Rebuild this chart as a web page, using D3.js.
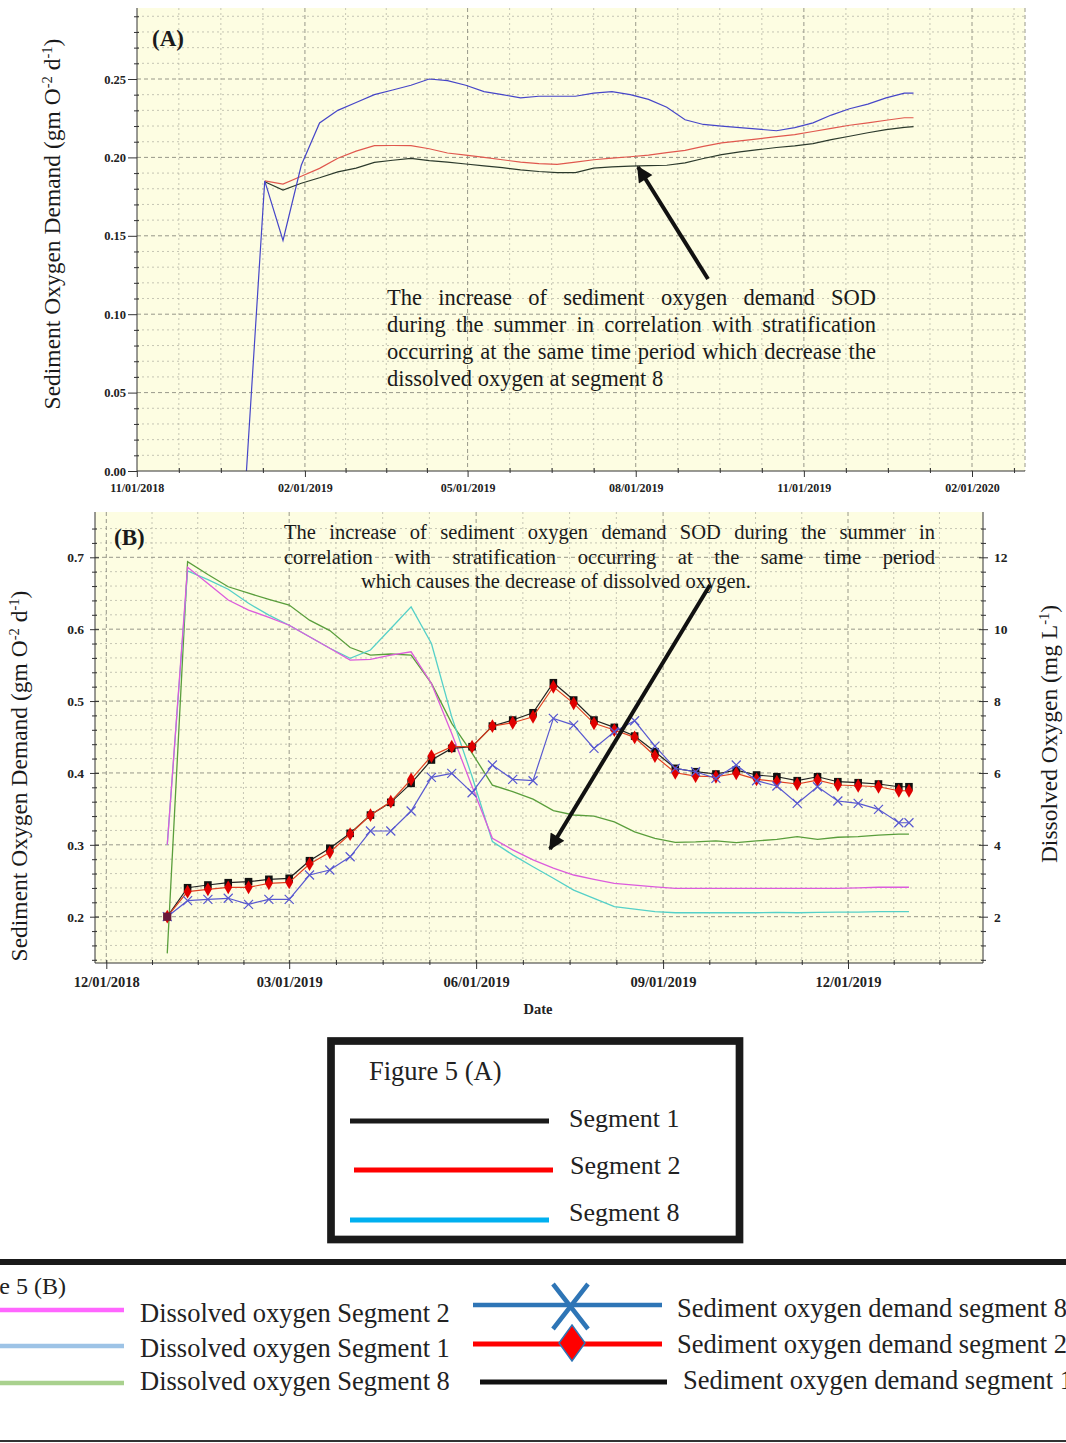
<!DOCTYPE html>
<html><head><meta charset="utf-8">
<script src="https://cdn.jsdelivr.net/npm/d3@7"></script>
<style>
body{margin:0;background:#fff;}
svg{display:block;}
text{font-family:"Liberation Serif","Times New Roman",serif;}
</style>
</head><body>
<svg id="c" width="1066" height="1443"></svg>
<script>
// ---------- DATA ----------
const dates = ["2018-12-31","2019-01-10","2019-01-20","2019-01-30","2019-02-09","2019-02-19","2019-03-01","2019-03-11","2019-03-21","2019-03-31","2019-04-10","2019-04-20","2019-04-30","2019-05-10","2019-05-20","2019-05-30","2019-06-09","2019-06-19","2019-06-29","2019-07-09","2019-07-19","2019-07-29","2019-08-08","2019-08-18","2019-08-28","2019-09-07","2019-09-17","2019-09-27","2019-10-07","2019-10-17","2019-10-27","2019-11-06","2019-11-16","2019-11-26","2019-12-06","2019-12-16","2019-12-26","2019-12-31"];

// Panel A: sediment oxygen demand (gm O-2 d-1)
const sodA_seg8 = [0, 0.185, 0.147, 0.195, 0.222, 0.230, 0.235, 0.240, 0.243, 0.246, 0.250, 0.249, 0.246, 0.242, 0.240, 0.238, 0.239, 0.239, 0.239, 0.241, 0.242, 0.240, 0.237, 0.232, 0.224, 0.221, 0.220, 0.219, 0.218, 0.217, 0.219, 0.222, 0.227, 0.231, 0.234, 0.238, 0.241, 0.241];
const sodA_seg2 = [null, 0.185, 0.183, 0.188, 0.193, 0.1995, 0.204, 0.2075, 0.2076, 0.2075, 0.2055, 0.2028, 0.2015, 0.200, 0.1985, 0.197, 0.196, 0.1956, 0.197, 0.1985, 0.1995, 0.2004, 0.2015, 0.203, 0.2045, 0.207, 0.2093, 0.2105, 0.2118, 0.2132, 0.2145, 0.2165, 0.2185, 0.2205, 0.222, 0.2237, 0.2253, 0.2253];
const sodA_seg1 = [null, 0.1845, 0.1792, 0.1835, 0.187, 0.1908, 0.1932, 0.1968, 0.1982, 0.1994, 0.198, 0.197, 0.1958, 0.1946, 0.1935, 0.192, 0.191, 0.1903, 0.1903, 0.1932, 0.194, 0.1944, 0.1947, 0.195, 0.1965, 0.1993, 0.2018, 0.2035, 0.2049, 0.2063, 0.2074, 0.2088, 0.2113, 0.2135, 0.2157, 0.2177, 0.2192, 0.2196];

// Panel B: sediment oxygen demand (left axis)
const sodB_seg1 = [0.200, 0.2403, 0.2441, 0.2473, 0.2487, 0.2520, 0.2534, 0.2779, 0.2951, 0.3160, 0.3414, 0.3591, 0.3855, 0.4180, 0.4342, 0.4365, 0.4652, 0.4736, 0.4837, 0.5255, 0.5014, 0.4736, 0.4634, 0.4513, 0.4295, 0.4064, 0.4017, 0.3985, 0.4040, 0.3971, 0.3947, 0.3892, 0.3947, 0.3878, 0.3864, 0.3846, 0.3808, 0.3808];
const sodB_seg2 = [0.200, 0.2348, 0.2381, 0.2409, 0.2409, 0.2464, 0.2478, 0.2733, 0.2896, 0.3150, 0.3414, 0.3600, 0.3911, 0.4235, 0.4365, 0.4365, 0.4652, 0.4698, 0.4782, 0.5199, 0.4968, 0.4690, 0.4597, 0.4495, 0.4235, 0.4003, 0.3957, 0.3947, 0.3994, 0.3911, 0.3878, 0.3846, 0.3901, 0.3832, 0.3822, 0.3808, 0.3752, 0.3752];
const sodB_seg8 = [0.200, 0.2223, 0.2242, 0.2256, 0.2172, 0.2242, 0.2242, 0.2580, 0.2650, 0.2834, 0.3192, 0.3192, 0.3470, 0.3939, 0.3994, 0.3725, 0.4110, 0.3911, 0.3892, 0.4759, 0.4666, 0.4342, 0.4573, 0.4726, 0.4374, 0.4064, 0.4017, 0.3925, 0.4110, 0.3892, 0.3818, 0.3577, 0.3808, 0.3609, 0.3577, 0.3494, 0.3307, 0.3307];
// Panel B: dissolved oxygen (right axis, mg L-1)
const doB_seg2 = [4.0, 11.72, 11.27, 10.81, 10.53, 10.33, 10.11, 9.79, 9.47, 9.14, 9.16, 9.28, 9.37, 8.49, 7.10, 5.62, 4.18, 3.86, 3.58, 3.35, 3.16, 3.04, 2.93, 2.88, 2.83, 2.79, 2.79, 2.79, 2.79, 2.79, 2.79, 2.79, 2.79, 2.79, 2.80, 2.82, 2.82, 2.82];
const doB_seg1 = [4.0, 11.62, 11.38, 11.11, 10.72, 10.39, 10.11, 9.79, 9.47, 9.19, 9.42, 10.02, 10.62, 9.60, 7.56, 5.90, 4.09, 3.72, 3.39, 3.07, 2.74, 2.51, 2.28, 2.21, 2.14, 2.11, 2.11, 2.11, 2.11, 2.11, 2.12, 2.11, 2.12, 2.13, 2.13, 2.14, 2.14, 2.14];
const doB_seg8 = [0.98, 11.88, 11.52, 11.18, 11.0, 10.83, 10.67, 10.25, 9.96, 9.49, 9.28, 9.31, 9.28, 8.49, 7.38, 6.55, 5.66, 5.48, 5.27, 4.95, 4.83, 4.80, 4.64, 4.36, 4.18, 4.07, 4.08, 4.11, 4.06, 4.11, 4.15, 4.23, 4.15, 4.21, 4.23, 4.27, 4.30, 4.30];

// Tick labels
const ticksA_x = ["2018-11-01","2019-02-01","2019-05-01","2019-08-01","2019-11-01","2020-02-01"];
const ticksA_y = [0, 0.05, 0.10, 0.15, 0.20, 0.25];
const ticksB_x = ["2018-12-01","2019-03-01","2019-06-01","2019-09-01","2019-12-01"];
const ticksB_yL = [0.2, 0.3, 0.4, 0.5, 0.6, 0.7];
const ticksB_yR = [2, 4, 6, 8, 10, 12];

const noteA = ["The increase of sediment oxygen demand SOD","during the summer in correlation with stratification","occurring at the same time period which decrease the","dissolved oxygen at segment 8"];
const noteB = ["The increase of sediment oxygen demand SOD during the summer in","correlation with stratification occurring at the same time period","which causes the decrease of dissolved oxygen."];

const legendA = ["Segment 1","Segment 2","Segment 8"];
const legendB_left = ["Dissolved oxygen Segment 2","Dissolved oxygen Segment 1","Dissolved oxygen Segment 8"];
const legendB_right = ["Sediment oxygen demand segment 8","Sediment oxygen demand segment 2","Sediment oxygen demand segment 1"];

// ---------- DRAWING ----------
const svg = d3.select("#c");
const parse = d3.timeParse("%Y-%m-%d");
const D = dates.map(parse);
const fmtDate = d3.timeFormat("%m/%d/%Y");
const BG = "#fdfde2";

const defs = svg.append("defs");
defs.append("marker").attr("id","ah").attr("viewBox","0 0 10 10").attr("refX",9).attr("refY",5)
  .attr("markerWidth",20).attr("markerHeight",16).attr("markerUnits","userSpaceOnUse").attr("orient","auto")
  .append("path").attr("d","M0,0L10,5L0,10z").attr("fill","#111");
defs.append("clipPath").attr("id","clipA").append("rect").attr("x",137).attr("y",8).attr("width",888).attr("height",463);
defs.append("clipPath").attr("id","clipB").append("rect").attr("x",95).attr("y",512).attr("width",888).attr("height",451);

function minorsBetween(majors, after) {
  const out = [];
  for (let i = 0; i < majors.length - 1; i++) {
    const a = +majors[i], b = +majors[i+1];
    for (let k = 1; k < 4; k++) out.push(new Date(a + (b - a) * k / 4));
  }
  const last = +majors[majors.length-1], step = (+majors[1] - +majors[0]) / 4;
  for (let k = 1; k <= after; k++) out.push(new Date(last + step * k));
  return out;
}

function drawGrid(g, x, y, box, majX, minX, majY, minY) {
  const gg = g.append("g");
  gg.selectAll(".hmin").data(minY).join("line")
    .attr("x1", box.l).attr("x2", box.r).attr("y1", d => y(d)).attr("y2", d => y(d))
    .attr("stroke", "#b8b8a8").attr("stroke-width", 0.8).attr("stroke-dasharray", "2,3");
  gg.selectAll(".vmin").data(minX).join("line")
    .attr("y1", box.t).attr("y2", box.b).attr("x1", d => x(d)).attr("x2", d => x(d))
    .attr("stroke", "#b8b8a8").attr("stroke-width", 0.8).attr("stroke-dasharray", "2,3");
  gg.selectAll(".hmaj").data(majY).join("line")
    .attr("x1", box.l).attr("x2", box.r).attr("y1", d => y(d)).attr("y2", d => y(d))
    .attr("stroke", "#8c8c80").attr("stroke-width", 0.9).attr("stroke-dasharray", "4,3");
  gg.selectAll(".vmaj").data(majX).join("line")
    .attr("y1", box.t).attr("y2", box.b).attr("x1", d => x(d)).attr("x2", d => x(d))
    .attr("stroke", "#8c8c80").attr("stroke-width", 0.9).attr("stroke-dasharray", "4,3");
}

function styleAxis(sel, size) {
  sel.select(".domain").remove();
  sel.selectAll("line").attr("stroke", "#333");
  sel.selectAll("text").attr("font-family", "Liberation Serif, serif").attr("font-weight", "bold")
    .attr("font-size", size).attr("fill", "#222");
}

function justify(g, str, x0, x1, y, size) {
  const words = str.split(" ");
  const t = g.append("text").attr("y", y).attr("font-size", size).attr("fill", "#1a1a1a");
  const spans = words.map(w => t.append("tspan").text(w));
  const widths = spans.map(s => s.node().getComputedTextLength());
  const gap = (x1 - x0 - d3.sum(widths)) / (words.length - 1);
  let xx = x0;
  spans.forEach((s, i) => { s.attr("x", xx); xx += widths[i] + gap; });
}

function rotTitle(g, cx, cy, parts, size) {
  const t = g.append("text").attr("transform", `translate(${cx},${cy}) rotate(-90)`)
    .attr("text-anchor", "middle").attr("font-size", size).attr("fill", "#1a1a1a");
  parts.forEach(p => {
    const s = t.append("tspan").text(p[0]);
    if (p[1] === "sup") s.attr("dy", -8).attr("font-size", size * 0.62);
    if (p[1] === "down") s.attr("dy", 8);
  });
}

// ===== Panel A =====
{
  const box = {l: 137, r: 1025, t: 8, b: 471};
  const x = d3.scaleTime().domain([parse("2018-11-01"), parse("2020-02-01")]).range([136.8, 972]);
  const y = d3.scaleLinear().domain([0, 0.25]).range([471, 79]);
  const g = svg.append("g");
  g.append("rect").attr("x", box.l).attr("y", box.t).attr("width", box.r - box.l).attr("height", box.b - box.t).attr("fill", BG);
  const majX = ticksA_x.map(parse);
  const minX = minorsBetween(majX, 1);
  const majY = ticksA_y;
  const minY = d3.range(1, 30).map(i => i / 100).filter(v => Math.round(v * 100) % 5 !== 0);
  drawGrid(g, x, y, box, majX.slice(1), minX, majY.slice(1), minY);
  g.append("line").attr("x1", 1025).attr("x2", 1025).attr("y1", box.t).attr("y2", box.b)
    .attr("stroke", "#8c8c80").attr("stroke-width", 0.9).attr("stroke-dasharray", "4,3");

  const lines = g.append("g").attr("clip-path", "url(#clipA)");
  const series = [[sodA_seg1, "#2c3a2c"], [sodA_seg2, "#e0584e"], [sodA_seg8, "#4646c8"]];
  series.forEach(([vals, col]) => {
    const line = d3.line().defined(d => d[1] != null).x(d => x(d[0])).y(d => y(d[1]));
    lines.append("path").attr("d", line(D.map((d, i) => [d, vals[i]])))
      .attr("fill", "none").attr("stroke", col).attr("stroke-width", 1.2);
  });

  // axes
  g.append("line").attr("x1", box.l).attr("x2", box.l).attr("y1", box.t).attr("y2", box.b).attr("stroke", "#333");
  g.append("line").attr("x1", box.l).attr("x2", box.r).attr("y1", box.b).attr("y2", box.b).attr("stroke", "#333");
  const ay = g.append("g").attr("transform", `translate(${box.l},0)`)
    .call(d3.axisLeft(y).tickValues(majY).tickFormat(d3.format(".2f")).tickSize(9).tickPadding(2));
  styleAxis(ay, 12.5);
  const ay2 = g.append("g").attr("transform", `translate(${box.l + 2},0)`)
    .call(d3.axisLeft(y).tickValues(minY).tickFormat("").tickSize(5));
  styleAxis(ay2, 12);
  const ax = g.append("g").attr("transform", `translate(0,${box.b})`)
    .call(d3.axisBottom(x).tickValues(majX).tickFormat(fmtDate).tickSize(6).tickPadding(6));
  styleAxis(ax, 12);
  const ax2 = g.append("g").attr("transform", `translate(0,${box.b + 2})`)
    .call(d3.axisTop(x).tickValues(minX.filter(d => x(d) < box.r)).tickFormat("").tickSize(5));
  styleAxis(ax2, 12);

  g.append("text").attr("x", 152).attr("y", 46).attr("font-size", 23).attr("font-weight", "bold").attr("fill", "#1a1a1a").text("(A)");
  rotTitle(g, 60, 224, [["Sediment Oxygen Demand (gm O"], ["-2", "sup"], [" d", "down"], ["-1", "sup"], [")", "down"]], 23.5);

  const nb = g.append("g");
  justify(nb, noteA[0], 387, 876, 305, 22.5);
  justify(nb, noteA[1], 387, 876, 332, 22.5);
  justify(nb, noteA[2], 387, 876, 359, 22.5);
  nb.append("text").attr("x", 387).attr("y", 386).attr("font-size", 22.5).attr("fill", "#1a1a1a").text(noteA[3]);
  g.append("line").attr("x1", 708).attr("y1", 279).attr("x2", 638).attr("y2", 167)
    .attr("stroke", "#111").attr("stroke-width", 4).attr("marker-end", "url(#ah)");
}

// ===== Panel B =====
{
  const box = {l: 95, r: 983, t: 512, b: 963};
  const x = d3.scaleTime().domain([parse("2018-12-01"), parse("2019-12-01")]).range([106.3, 848]);
  const yL = d3.scaleLinear().domain([0.2, 0.7]).range([916.7, 557.3]);
  const yR = d3.scaleLinear().domain([2, 12]).range([916.7, 557.3]);
  const g = svg.append("g");
  g.append("rect").attr("x", box.l).attr("y", box.t).attr("width", box.r - box.l).attr("height", box.b - box.t).attr("fill", BG);
  const majX = ticksB_x.map(parse);
  const minX = minorsBetween(majX, 2);
  const majY = ticksB_yL;
  const minY = d3.range(7, 38).map(i => i / 50).filter(v => Math.round(v * 50) % 5 !== 0);
  drawGrid(g, x, yL, box, majX, minX, majY, minY);

  const lines = g.append("g").attr("clip-path", "url(#clipB)");
  const doSeries = [[doB_seg8, "#5a9e3c"], [doB_seg1, "#55d0c8"], [doB_seg2, "#dc5cdc"]];
  doSeries.forEach(([vals, col]) => {
    const line = d3.line().x(d => x(d[0])).y(d => yR(d[1]));
    lines.append("path").attr("d", line(D.map((d, i) => [d, vals[i]])))
      .attr("fill", "none").attr("stroke", col).attr("stroke-width", 1.3);
  });
  const sodLine = d3.line().x(d => x(d[0])).y(d => yL(d[1]));
  const pts = vals => D.map((d, i) => [d, vals[i]]);
  // segment 1 (black squares)
  lines.append("path").attr("d", sodLine(pts(sodB_seg1))).attr("fill", "none").attr("stroke", "#222").attr("stroke-width", 1.2);
  lines.selectAll(".sq").data(pts(sodB_seg1)).join("rect")
    .attr("x", d => x(d[0]) - 3.8).attr("y", d => yL(d[1]) - 3.8).attr("width", 7.6).attr("height", 7.6).attr("fill", "#111");
  // segment 2 (red diamonds)
  lines.append("path").attr("d", sodLine(pts(sodB_seg2))).attr("fill", "none").attr("stroke", "#e04020").attr("stroke-width", 1.2);
  lines.selectAll(".dm").data(pts(sodB_seg2)).join("path")
    .attr("transform", d => `translate(${x(d[0])},${yL(d[1])})`)
    .attr("d", d3.symbol(d3.symbolDiamond).size(55)).attr("fill", "#e00000");
  // segment 8 (blue crosses)
  lines.append("path").attr("d", sodLine(pts(sodB_seg8))).attr("fill", "none").attr("stroke", "#5858d0").attr("stroke-width", 1.2);
  lines.selectAll(".xx").data(pts(sodB_seg8)).join("path")
    .attr("transform", d => `translate(${x(d[0])},${yL(d[1])})`)
    .attr("d", "M-4.5,-4.5L4.5,4.5M-4.5,4.5L4.5,-4.5").attr("stroke", "#5858d0").attr("stroke-width", 1.2).attr("fill", "none");
  // first point overlap colour
  lines.append("rect").attr("x", x(D[0]) - 4).attr("y", yL(sodB_seg1[0]) - 4).attr("width", 8).attr("height", 8).attr("fill", "#6a1a3a");

  // axes
  g.append("line").attr("x1", box.l).attr("x2", box.l).attr("y1", box.t).attr("y2", box.b).attr("stroke", "#333");
  g.append("line").attr("x1", box.r).attr("x2", box.r).attr("y1", box.t).attr("y2", box.b).attr("stroke", "#333");
  g.append("line").attr("x1", box.l).attr("x2", box.r).attr("y1", box.b).attr("y2", box.b).attr("stroke", "#333");
  const ayl = g.append("g").attr("transform", `translate(${box.l + 4},0)`)
    .call(d3.axisLeft(yL).tickValues(majY).tickFormat(d3.format(".1f")).tickSize(9).tickPadding(6));
  styleAxis(ayl, 13.5);
  const ayl2 = g.append("g").attr("transform", `translate(${box.l + 2},0)`)
    .call(d3.axisLeft(yL).tickValues(minY).tickFormat("").tickSize(5));
  styleAxis(ayl2, 12);
  const ayr = g.append("g").attr("transform", `translate(${box.r - 4},0)`)
    .call(d3.axisRight(yR).tickValues(ticksB_yR).tickFormat(d3.format("d")).tickSize(9).tickPadding(6));
  styleAxis(ayr, 13.5);
  const ayr2 = g.append("g").attr("transform", `translate(${box.r - 2},0)`)
    .call(d3.axisRight(yR).tickValues(minY.map(v => (v - 0.1) * 20)).tickFormat("").tickSize(5));
  styleAxis(ayr2, 12);
  const ax = g.append("g").attr("transform", `translate(0,${box.b - 3})`)
    .call(d3.axisBottom(x).tickValues(majX).tickFormat(fmtDate).tickSize(9).tickPadding(8));
  styleAxis(ax, 14.5);
  const ax2 = g.append("g").attr("transform", `translate(0,${box.b + 2})`)
    .call(d3.axisTop(x).tickValues(minX.filter(d => x(d) < box.r)).tickFormat("").tickSize(5));
  styleAxis(ax2, 12);

  g.append("text").attr("x", 538).attr("y", 1014).attr("text-anchor", "middle").attr("font-size", 14.5)
    .attr("font-weight", "bold").attr("fill", "#222").text("Date");
  g.append("text").attr("x", 114).attr("y", 545).attr("font-size", 23).attr("font-weight", "bold").attr("fill", "#1a1a1a").text("(B)");
  rotTitle(g, 27, 776, [["Sediment Oxygen Demand (gm O"], ["-2", "sup"], [" d", "down"], ["-1", "sup"], [")", "down"]], 23.5);
  rotTitle(g, 1057, 734, [["Dissolved Oxygen (mg L"], ["-1", "sup"], [")", "down"]], 23.5);

  const nb = g.append("g");
  justify(nb, noteB[0], 284, 935, 539, 20.5);
  justify(nb, noteB[1], 284, 935, 564, 20.5);
  nb.append("text").attr("x", 361).attr("y", 588).attr("font-size", 20.5).attr("fill", "#1a1a1a").text(noteB[2]);
  g.append("line").attr("x1", 710).attr("y1", 585).attr("x2", 550).attr("y2", 849)
    .attr("stroke", "#111").attr("stroke-width", 4).attr("marker-end", "url(#ah)");
}

// ===== Legend A =====
{
  const g = svg.append("g");
  g.append("rect").attr("x", 331).attr("y", 1041).attr("width", 408.5).attr("height", 198.5)
    .attr("fill", "#fff").attr("stroke", "#1a1a1a").attr("stroke-width", 7.7);
  g.append("text").attr("x", 369).attr("y", 1080).attr("font-size", 26.5).attr("fill", "#222").text("Figure 5 (A)");
  const cols = ["#1a1a1a", "#ff0000", "#00b0f0"];
  const ly = [1121, 1170, 1220];
  const lx = [[350, 549], [354, 553], [350, 549]];
  const tx = [569, 570, 569];
  const ty = [1127, 1174, 1221];
  legendA.forEach((s, i) => {
    g.append("line").attr("x1", lx[i][0]).attr("x2", lx[i][1]).attr("y1", ly[i]).attr("y2", ly[i])
      .attr("stroke", cols[i]).attr("stroke-width", 5);
    g.append("text").attr("x", tx[i]).attr("y", ty[i]).attr("font-size", 26).attr("fill", "#222").text(s);
  });
}

// ===== Legend B =====
{
  const g = svg.append("g");
  g.append("line").attr("x1", 0).attr("x2", 1066).attr("y1", 1262).attr("y2", 1262).attr("stroke", "#1a1a1a").attr("stroke-width", 6);
  g.append("line").attr("x1", 0).attr("x2", 1066).attr("y1", 1441).attr("y2", 1441).attr("stroke", "#333").attr("stroke-width", 2);
  g.append("text").attr("x", 66).attr("y", 1294).attr("text-anchor", "end").attr("font-size", 24).attr("fill", "#222").text("Figure 5 (B)");
  const lcols = ["#ff66ff", "#9dc3e6", "#a9d18e"];
  const lly = [1310, 1346, 1383];
  const lty = [1322, 1357, 1390];
  legendB_left.forEach((s, i) => {
    g.append("line").attr("x1", 0).attr("x2", 124).attr("y1", lly[i]).attr("y2", lly[i]).attr("stroke", lcols[i]).attr("stroke-width", 4.5);
    g.append("text").attr("x", 140).attr("y", lty[i]).attr("font-size", 26.5).attr("fill", "#222").text(s);
  });
  // right column
  g.append("line").attr("x1", 473).attr("x2", 662).attr("y1", 1305).attr("y2", 1305).attr("stroke", "#2e75b6").attr("stroke-width", 4.5);
  g.append("path").attr("d", "M553,1284L588,1329M588,1284L553,1329").attr("stroke", "#2e75b6").attr("stroke-width", 4.5).attr("fill", "none");
  g.append("line").attr("x1", 473).attr("x2", 662).attr("y1", 1344).attr("y2", 1344).attr("stroke", "#ff0000").attr("stroke-width", 5);
  g.append("path").attr("d", "M572,1325L585,1343L572,1361L559,1343Z").attr("fill", "#ff0000").attr("stroke", "#2e75b6").attr("stroke-width", 1.5);
  g.append("line").attr("x1", 480).attr("x2", 667).attr("y1", 1382).attr("y2", 1382).attr("stroke", "#111").attr("stroke-width", 5);
  const rtx = [677, 677, 683];
  const rty = [1317, 1353, 1389];
  legendB_right.forEach((s, i) => {
    g.append("text").attr("x", rtx[i]).attr("y", rty[i]).attr("font-size", 26.5).attr("fill", "#222").text(s);
  });
}
</script>
</body></html>
